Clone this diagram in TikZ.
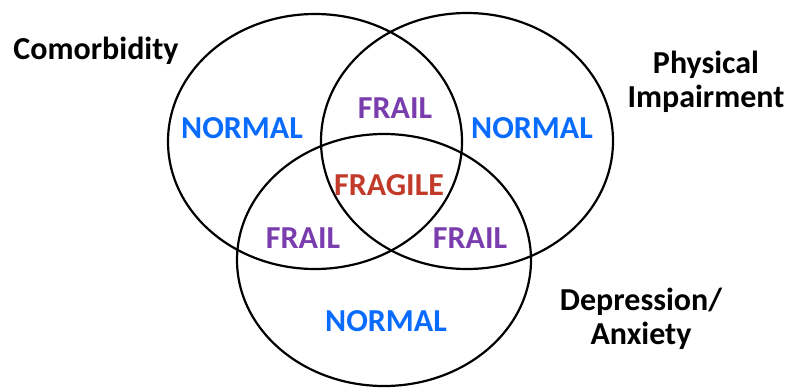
\documentclass[tikz,border=0pt]{standalone}
\usepackage{fontspec}
\setmainfont{Carlito}
\definecolor{nblue}{HTML}{0A6CFF}
\definecolor{fpurple}{HTML}{7A3DAE}
\definecolor{gred}{HTML}{C23B2A}
\begin{document}
\begin{tikzpicture}[x=1pt,y=-1pt,
  ring/.style={draw=black,line width=2.2pt},
  cat/.style={font=\fontsize{32}{34}\selectfont\bfseries,align=center,text=black},
  zone/.style={font=\fontsize{32}{34}\selectfont\bfseries}]
\useasboundingbox (0,0) rectangle (789,388);
\draw[ring] (315,141.5) ellipse [x radius=147, y radius=127.5];
\draw[ring] (467,141) ellipse [x radius=146, y radius=128];
\draw[ring] (384,260) ellipse [x radius=147, y radius=126];
\node[cat] (com) at (96,51) {Comorbidity};
\node[cat] (phy) at (706,82) {Physical\\Impairment};
\node[cat] (dep) at (641,319) {Depression/\\Anxiety};
\node[zone,text=nblue] (n1) at (242,128) {NORMAL};
\node[zone,text=nblue] (n2) at (532,128) {NORMAL};
\node[zone,text=nblue] (n3) at (386,321) {NORMAL};
\node[zone,text=fpurple] (f1) at (395,108) {FRAIL};
\node[zone,text=fpurple] (f2) at (303,238) {FRAIL};
\node[zone,text=fpurple] (f3) at (470,238) {FRAIL};
\node[zone,text=gred] (fg) at (389,185) {FRAGILE};
\end{tikzpicture}
\end{document}
